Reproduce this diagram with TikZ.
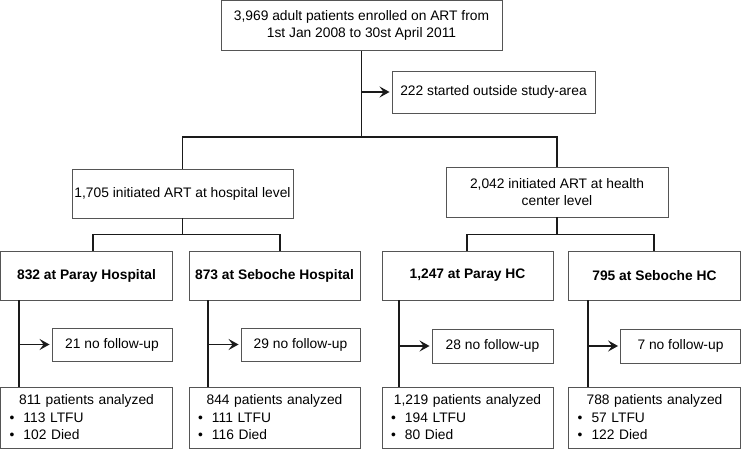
\documentclass[tikz,border=0pt]{standalone}
\usepackage{fontspec}
\setmainfont{Liberation Sans}
\usetikzlibrary{arrows.meta}
\definecolor{boxgray}{HTML}{555555}
\definecolor{linec}{HTML}{1A1A1A}
\begin{document}
\begin{tikzpicture}[x=1pt,y=-1pt,
  box/.style={draw=boxgray, line width=0.9pt, inner sep=0pt, align=center,
    font=\fontsize{13.8}{17}\selectfont, text=black},
  bbox/.style={box, font=\fontsize{13.8}{17}\selectfont\bfseries, minimum height=49pt},
  nbox/.style={box},
  abox/.style={box, align=left, inner xsep=9pt, minimum height=61pt,
    font=\fontsize{13.8}{17.5}\selectfont},
  conn/.style={draw=linec, line width=1.9pt},
  arr/.style={conn, -{Stealth[length=10pt,width=11pt,inset=4pt]}, shorten >=2pt}]
\useasboundingbox (0,0) rectangle (741,449);

\node[box, minimum width=281pt, minimum height=50pt] (top) at (361.5,25.5)
  {3,969 adult patients enrolled on ART from\\1st Jan 2008 to 30st April 2011};
\node[box, minimum width=203pt, minimum height=42pt] (out) at (493.5,92)
  {222 started outside study-area};
\node[box, minimum width=221pt, minimum height=49pt] (hosp) at (182.5,193.5)
  {1,705 initiated ART at hospital level};
\node[box, minimum width=222pt, minimum height=50pt] (hc) at (557,192)
  {2,042 initiated ART at health\\center level};

\node[bbox, minimum width=172pt] (b1) at (86.5,275.5) {832 at Paray Hospital};
\node[bbox, minimum width=171pt] (b2) at (274.5,275.5) {873 at Seboche Hospital};
\node[bbox, minimum width=171pt] (b3) at (467.5,275.5) {1,247 at Paray HC};
\node[bbox, minimum width=172pt] (b4) at (654.5,275.5) {795 at Seboche HC};

\node[nbox, minimum width=120pt, minimum height=33pt] (n1) at (112,344.5) {21 no follow-up};
\node[nbox, minimum width=119pt, minimum height=33pt] (n2) at (300.5,344.5) {29 no follow-up};
\node[nbox, minimum width=121pt, minimum height=34pt] (n3) at (492.5,346) {28 no follow-up};
\node[nbox, minimum width=120pt, minimum height=34pt] (n4) at (680.5,346) {7 no follow-up};

\node[abox, text width=154pt] (a1) at (86.5,417.5)
  {\makebox[\linewidth]{811 patients analyzed}\\\makebox[14pt][l]{\textbullet}113 LTFU\\\makebox[14pt][l]{\textbullet}102 Died};
\node[abox, text width=153pt] (a2) at (274.5,417.5)
  {\makebox[\linewidth]{844 patients analyzed}\\\makebox[14pt][l]{\textbullet}111 LTFU\\\makebox[14pt][l]{\textbullet}116 Died};
\node[abox, text width=153pt] (a3) at (467.5,417.5)
  {\makebox[\linewidth]{1,219 patients analyzed}\\\makebox[14pt][l]{\textbullet}194 LTFU\\\makebox[14pt][l]{\textbullet}80 Died};
\node[abox, text width=154pt] (a4) at (654.5,417.5)
  {\makebox[\linewidth]{788 patients analyzed}\\\makebox[14pt][l]{\textbullet}57 LTFU\\\makebox[14pt][l]{\textbullet}122 Died};

% top level connectors
\coordinate (barA) at (0,137);
\draw[conn] (top.south) -- (top.south |- barA);
\draw[conn] (hosp.north) -- (hosp.north |- barA) -- (hc.north |- barA) -- (hc.north);
\draw[arr] (top.south |- out.west) -- (out.west);

% second level
\coordinate (d1) at (93,234.5);
\coordinate (d2) at (280,234.5);
\coordinate (d3) at (467,234.5);
\coordinate (d4) at (654,234.5);
\draw[conn] (hosp.south) -- (hosp.south |- d1);
\draw[conn] (b1.north -| d1) -- (d1) -- (d2) -- (b2.north -| d2);
\draw[conn] (hc.south) -- (hc.south |- d3);
\draw[conn] (b3.north -| d3) -- (d3) -- (d4) -- (b4.north -| d4);

% third level
\coordinate (v1) at (19,0);
\coordinate (v2) at (208,0);
\coordinate (v3) at (399,0);
\coordinate (v4) at (588,0);
\draw[conn] (b1.south -| v1) -- (a1.north -| v1);
\draw[conn] (b2.south -| v2) -- (a2.north -| v2);
\draw[conn] (b3.south -| v3) -- (a3.north -| v3);
\draw[conn] (b4.south -| v4) -- (a4.north -| v4);
\draw[arr] (v1 |- n1.west) -- (n1.west);
\draw[arr] (v2 |- n2.west) -- (n2.west);
\draw[arr] (v3 |- n3.west) -- (n3.west);
\draw[arr] (v4 |- n4.west) -- (n4.west);
\end{tikzpicture}
\end{document}
